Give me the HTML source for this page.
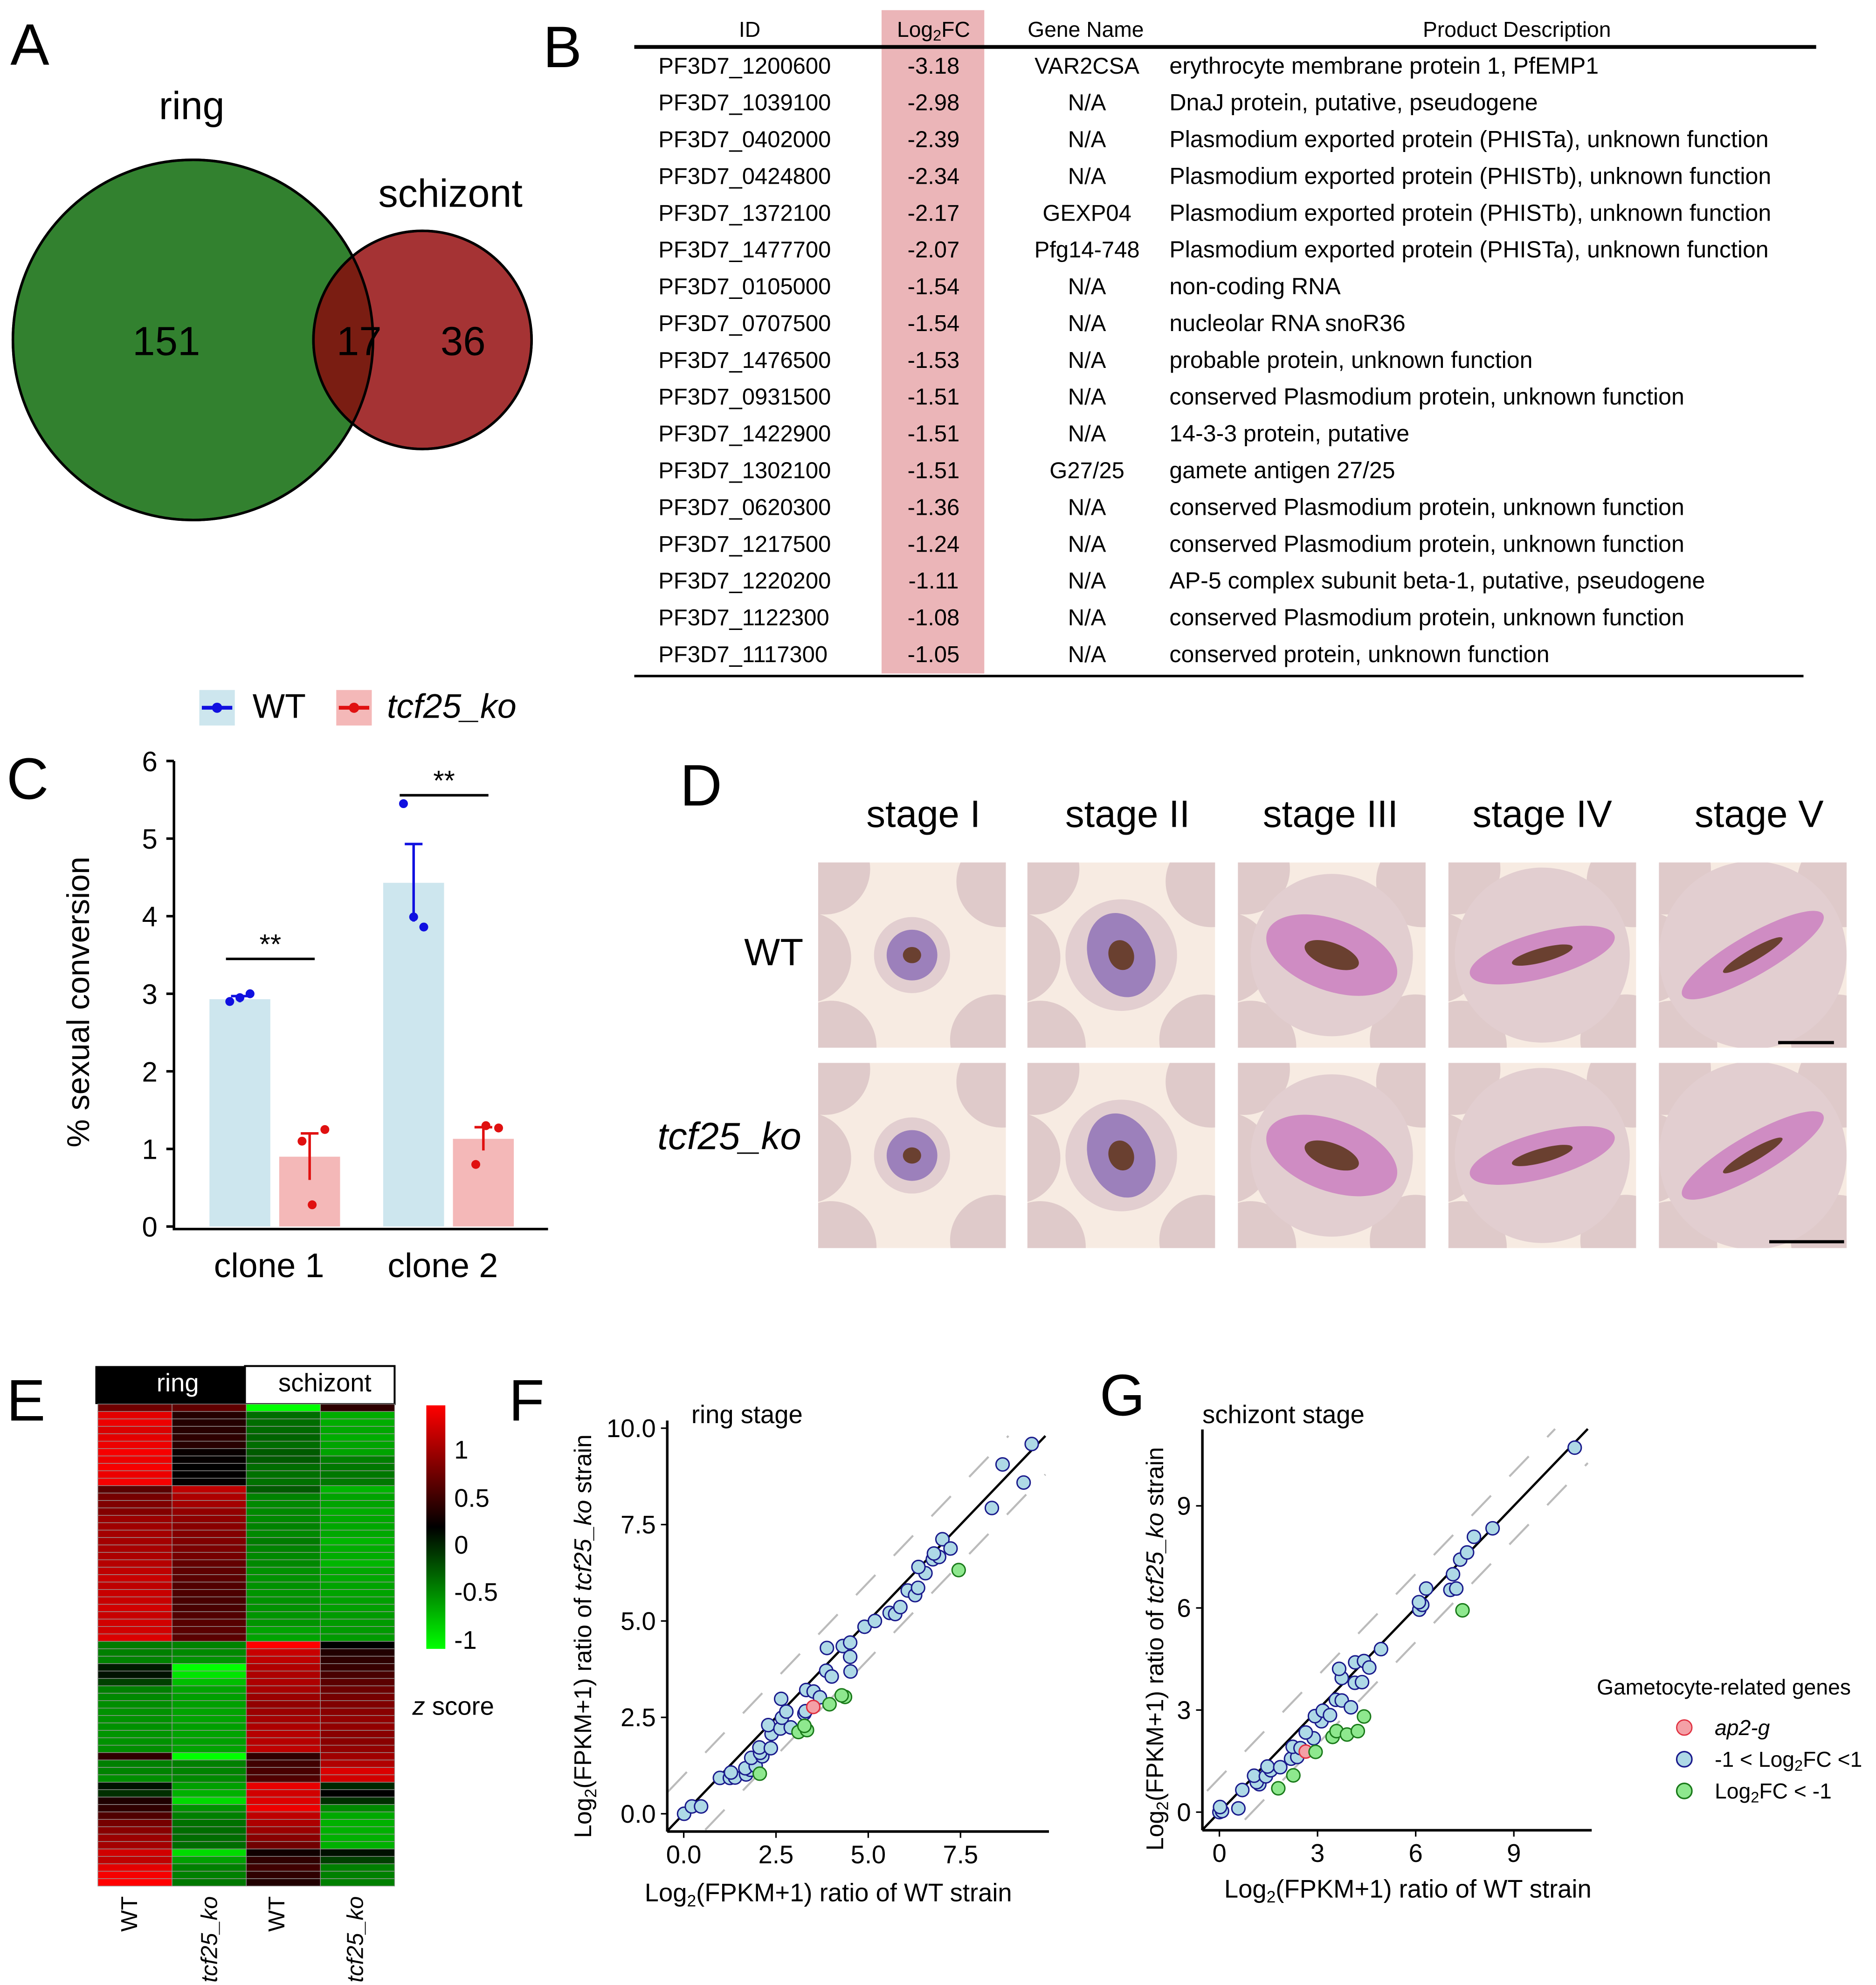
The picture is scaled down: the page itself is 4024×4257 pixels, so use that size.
<!DOCTYPE html>
<html><head><meta charset="utf-8"><style>
html,body{margin:0;padding:0;background:#fff}
svg{display:block;font-family:"Liberation Sans",Arial,sans-serif}
</style></head><body>
<svg id="fig" xmlns="http://www.w3.org/2000/svg" width="4024" height="4257" viewBox="0 0 1479 1565">
<rect x="0" y="0" width="1479" height="1565" fill="#fff"/>
<g font-size="46" fill="#000">
<text x="8" y="51">A</text><text x="428" y="53">B</text><text x="5" y="630">C</text>
<text x="536" y="635">D</text><text x="5" y="1120">E</text><text x="401" y="1120">F</text><text x="867" y="1116">G</text>
</g>
<g>
<circle cx="152" cy="268" r="142" fill="#32812f" stroke="#000" stroke-width="2"/>
<circle cx="333" cy="268" r="86" fill="#a53334" stroke="#000" stroke-width="2"/>
<clipPath id="cpBig"><circle cx="152" cy="268" r="142"/></clipPath>
<circle cx="333" cy="268" r="86" fill="#7a1d12" clip-path="url(#cpBig)"/>
<circle cx="152" cy="268" r="142" fill="none" stroke="#000" stroke-width="2"/>
<circle cx="333" cy="268" r="86" fill="none" stroke="#000" stroke-width="2"/>
<text x="151" y="94" font-size="31" text-anchor="middle">ring</text>
<text x="355" y="163" font-size="31" text-anchor="middle">schizont</text>
<text x="131" y="280" font-size="32" text-anchor="middle">151</text>
<text x="283" y="280" font-size="32" text-anchor="middle">17</text>
<text x="365" y="280" font-size="32" text-anchor="middle">36</text>
</g>
<g id="tableB">
<rect x="695" y="8" width="81" height="523" fill="#ebb5b8"/>
<line x1="500" y1="37" x2="1432" y2="37" stroke="#000" stroke-width="3"/>
<line x1="500" y1="533" x2="1422" y2="533" stroke="#000" stroke-width="2"/>
<g font-size="17" text-anchor="middle">
<text x="591" y="29">ID</text><text x="736" y="29">Log<tspan font-size="12" dy="3">2</tspan><tspan dy="-3">FC</tspan></text>
<text x="856" y="29">Gene Name</text><text x="1196" y="29">Product Description</text></g>
</g>
<g id="panelC">
<g>
<rect x="157" y="544" width="28" height="28" fill="#cde6ee"/><line x1="159" y1="558" x2="183" y2="558" stroke="#1010e0" stroke-width="3"/><circle cx="171" cy="558" r="4" fill="#1010e0"/>
<text x="199" y="566" font-size="27">WT</text>
<rect x="265" y="544" width="28" height="28" fill="#f4b8b8"/><line x1="267" y1="558" x2="291" y2="558" stroke="#e01010" stroke-width="3"/><circle cx="279" cy="558" r="4" fill="#e01010"/>
<text x="305" y="566" font-size="27" font-style="italic">tcf25_ko</text>
</g>
<text transform="translate(70,790) rotate(-90)" font-size="25" text-anchor="middle">% sexual conversion</text>
</g>
<g id="panelD">
<g font-size="30" text-anchor="middle">
<text x="728" y="652">stage I</text><text x="889" y="652">stage II</text><text x="1049" y="652">stage III</text><text x="1216" y="652">stage IV</text><text x="1387" y="652">stage V</text></g>
<text x="610" y="761" font-size="30" text-anchor="middle">WT</text>
<text x="575" y="906" font-size="30" font-style="italic" text-anchor="middle">tcf25_ko</text>
</g>
<g id="panelE">
<rect x="75" y="1077" width="118" height="30" fill="#000"/>
<rect x="193" y="1077" width="118" height="30" fill="#fff" stroke="#000" stroke-width="1.5"/>
<text x="140" y="1097" font-size="20" fill="#fff" text-anchor="middle">ring</text>
<text x="256" y="1097" font-size="20" text-anchor="middle">schizont</text>
<defs><linearGradient id="zg" x1="0" y1="0" x2="0" y2="1"><stop offset="0" stop-color="#ff0000"/><stop offset="0.5" stop-color="#000"/><stop offset="1" stop-color="#00ff00"/></linearGradient></defs>
<rect x="336" y="1108" width="15" height="192" fill="url(#zg)"/>
<g font-size="20">
<text x="358" y="1150">1</text><text x="358" y="1188">0.5</text><text x="358" y="1225">0</text><text x="358" y="1262">-0.5</text><text x="358" y="1300">-1</text></g>
<text x="325" y="1352" font-size="20"><tspan font-style="italic">z</tspan> score</text>
<g font-size="18" text-anchor="end">
<text transform="translate(108,1495) rotate(-90)">WT</text>
<text transform="translate(171,1495) rotate(-90)" font-style="italic">tcf25_ko</text>
<text transform="translate(224,1495) rotate(-90)">WT</text>
<text transform="translate(286,1495) rotate(-90)" font-style="italic">tcf25_ko</text></g>
</g>
<g id="panelF">
<text x="545" y="1122" font-size="20">ring stage</text>
<text transform="translate(466,1290) rotate(-90)" font-size="19" text-anchor="middle">Log<tspan font-size="13" dy="4">2</tspan><tspan dy="-4">(FPKM+1) ratio of </tspan><tspan font-style="italic">tcf25_ko</tspan> strain</text>
<text x="653" y="1499" font-size="20" text-anchor="middle">Log<tspan font-size="13" dy="4">2</tspan><tspan dy="-4">(FPKM+1) ratio of WT strain</tspan></text>
</g>
<g id="panelG">
<text x="948" y="1122" font-size="20">schizont stage</text>
<text transform="translate(917,1300) rotate(-90)" font-size="19" text-anchor="middle">Log<tspan font-size="13" dy="4">2</tspan><tspan dy="-4">(FPKM+1) ratio of </tspan><tspan font-style="italic">tcf25_ko</tspan> strain</text>
<text x="1110" y="1496" font-size="20" text-anchor="middle">Log<tspan font-size="13" dy="4">2</tspan><tspan dy="-4">(FPKM+1) ratio of WT strain</tspan></text>
<g>
<text x="1259" y="1336" font-size="17">Gametocyte-related genes</text>
<circle cx="1328" cy="1362" r="6" fill="#f4a0a6" stroke="#e03040" stroke-width="1"/><text x="1352" y="1368" font-size="17" font-style="italic">ap2-g</text>
<circle cx="1328" cy="1387" r="6" fill="#aed9e6" stroke="#1a1a8c" stroke-width="1.2"/><text x="1352" y="1393" font-size="17">-1 &lt; Log<tspan font-size="12" dy="3">2</tspan><tspan dy="-3">FC &lt;1</tspan></text>
<circle cx="1328" cy="1412" r="6" fill="#8ee88e" stroke="#1a7a1a" stroke-width="1.2"/><text x="1352" y="1418" font-size="17">Log<tspan font-size="12" dy="3">2</tspan><tspan dy="-3">FC &lt; -1</tspan></text>
</g>
</g>
</svg>
<script>
const NS='http://www.w3.org/2000/svg';
function mk(tag,attrs,parent){const e=document.createElementNS(NS,tag);for(const k in attrs)e.setAttribute(k,attrs[k]);if(parent)parent.appendChild(e);return e;}

const geneIds=['PF3D7_1200600','PF3D7_1039100','PF3D7_0402000','PF3D7_0424800','PF3D7_1372100','PF3D7_1477700','PF3D7_0105000','PF3D7_0707500','PF3D7_1476500','PF3D7_0931500','PF3D7_1422900','PF3D7_1302100','PF3D7_0620300','PF3D7_1217500','PF3D7_1220200','PF3D7_1122300','PF3D7_1117300'];
const geneFC=['-3.18','-2.98','-2.39','-2.34','-2.17','-2.07','-1.54','-1.54','-1.53','-1.51','-1.51','-1.51','-1.36','-1.24','-1.11','-1.08','-1.05'];
const geneNames=['VAR2CSA','N/A','N/A','N/A','GEXP04','Pfg14-748','N/A','N/A','N/A','N/A','N/A','G27/25','N/A','N/A','N/A','N/A','N/A'];
const geneDesc=['erythrocyte membrane protein 1, PfEMP1','DnaJ protein, putative, pseudogene','Plasmodium exported protein (PHISTa), unknown function','Plasmodium exported protein (PHISTb), unknown function','Plasmodium exported protein (PHISTb), unknown function','Plasmodium exported protein (PHISTa), unknown function','non-coding RNA','nucleolar RNA snoR36','probable protein, unknown function','conserved Plasmodium protein, unknown function','14-3-3 protein, putative','gamete antigen 27/25','conserved Plasmodium protein, unknown function','conserved Plasmodium protein, unknown function','AP-5 complex subunit beta-1, putative, pseudogene','conserved Plasmodium protein, unknown function','conserved protein, unknown function'];
(function(){const g=document.getElementById('tableB');
for(let i=0;i<geneIds.length;i++){const y=58+29*i;
const row=mk('g',{'font-size':'18'},g);


mk('text',{x:519,y:y},row).textContent=geneIds[i];
mk('text',{x:736,y:y,'text-anchor':'middle'},row).textContent=geneFC[i];
mk('text',{x:857,y:y,'text-anchor':'middle'},row).textContent=geneNames[i];
mk('text',{x:922,y:y,'font-size':'18.4'},row).textContent=geneDesc[i];}})();

const cClones=['clone 1','clone 2'];
const cWTMean=[2.93,4.43];
const cKOMean=[0.90,1.13];
const cWTErr=[0.04,0.50];
const cKOErr=[0.30,0.15];
const cWTPts=[[2.90,2.95,3.00],[5.45,3.99,3.86]];
const cKOPts=[[1.10,1.25,0.28],[0.80,1.27,1.30]];
const cTicks=[0,1,2,3,4,5,6];
(function(){const g=document.getElementById('panelC');
const y=v=>967-v*61.17; const cx=[214,351];
mk('line',{x1:137,y1:600,x2:137,y2:969,stroke:'#000','stroke-width':2},g);
const xa=mk('line',{x1:136,y1:969,x2:432,y2:969,stroke:'#000','stroke-width':2},g);

for(const t of cTicks){mk('line',{x1:131,x2:137,y1:y(t),y2:y(t),stroke:'#000','stroke-width':2},g);
const tx=mk('text',{x:124,y:y(t)+8,'font-size':22,'text-anchor':'end'},g);tx.textContent=t;
}
for(let i=0;i<2;i++){
const b1=mk('rect',{x:cx[i]-49,y:y(cWTMean[i]),width:48,height:y(0)-y(cWTMean[i]),fill:'#cde6ee'},g);


const b2=mk('rect',{x:cx[i]+6,y:y(cKOMean[i]),width:48,height:y(0)-y(cKOMean[i]),fill:'#f4b8b8'},g);


const wx=cx[i]-25,kx=cx[i]+30;
mk('line',{x1:wx,x2:wx,y1:y(cWTMean[i]+cWTErr[i]),y2:y(cWTMean[i]-cWTErr[i]),stroke:'#1010e0','stroke-width':2},g);
mk('line',{x1:wx-7,x2:wx+7,y1:y(cWTMean[i]+cWTErr[i]),y2:y(cWTMean[i]+cWTErr[i]),stroke:'#1010e0','stroke-width':2},g);
mk('line',{x1:kx,x2:kx,y1:y(cKOMean[i]+cKOErr[i]),y2:y(cKOMean[i]-cKOErr[i]),stroke:'#e01010','stroke-width':2},g);
mk('line',{x1:kx-7,x2:kx+7,y1:y(cKOMean[i]+cKOErr[i]),y2:y(cKOMean[i]+cKOErr[i]),stroke:'#e01010','stroke-width':2},g);
const offs=[-8,0,8];
cWTPts[i].forEach((v,j)=>{const p=mk('circle',{cx:wx+offs[j],cy:y(v),r:3.5,fill:'#1010e0'},g);});
cKOPts[i].forEach((v,j)=>{const p=mk('circle',{cx:kx+[-6,12,2][j],cy:y(v),r:3.5,fill:'#e01010'},g);});
const lab=mk('text',{x:cx[i]-2,y:1007,'font-size':27,'text-anchor':'middle'},g);lab.textContent=cClones[i];

const sy=i==0?756:627;
mk('line',{x1:cx[i]-36,x2:cx[i]+34,y1:sy,y2:sy,stroke:'#000','stroke-width':2},g);
const s=mk('text',{x:cx[i]-1,y:sy-4,'font-size':22,'text-anchor':'middle'},g);s.textContent='**';
}})();

(function(){const g=document.getElementById('panelD');
const cols=[645,810,976,1142,1308],rows=[680,838];
const shapes=[[16,16,0],[22,30,-20],[50,24,20],[55,14,-15],[60,12,-30]];
for(let r=0;r<2;r++)for(let c=0;c<5;c++){const x=cols[c],y=rows[r];
const fr=mk('g',{},g);


const cp=mk('clipPath',{id:'cp'+r+c},fr);mk('rect',{x:x,y:y,width:148,height:146},cp);
const gg=mk('g',{'clip-path':'url(#cp'+r+c+')'},fr);
mk('rect',{x:x,y:y,width:148,height:146,fill:'#f7ebe2'},gg);
const rbc=[[5,5],[145,15],[140,140],[10,145],[-10,75]];
rbc.forEach(p=>mk('circle',{cx:x+p[0],cy:y+p[1],r:36,fill:'#d8c2c4',opacity:0.8},gg));
const s=shapes[c];
mk('circle',{cx:x+74,cy:y+73,r:Math.max(s[0],s[1])+14,fill:'#e2ced0'},gg);
mk('ellipse',{cx:x+74,cy:y+73,rx:s[0]+4,ry:s[1]+4,fill:c<2?'#9c80bb':'#cf8cc3',transform:'rotate('+s[2]+' '+(x+74)+' '+(y+73)+')'},gg);
mk('ellipse',{cx:x+74,cy:y+73,rx:s[0]*0.45,ry:s[1]*0.4,fill:'#6a4030',transform:'rotate('+s[2]+' '+(x+74)+' '+(y+73)+')'},gg);}
mk('line',{x1:1402,x2:1446,y1:822,y2:822,stroke:'#000','stroke-width':2.5},g);
mk('line',{x1:1395,x2:1454,y1:979,y2:979,stroke:'#000','stroke-width':2.5},g);})();

const hmColumns=['WT ring','tcf25_ko ring','WT schizont','tcf25_ko schizont'];
const zWTRing=[.61,1.25,1.3,1.2,1.25,1.3,1.35,1.3,1.35,1.3,1.35,.5,.65,.7,.72,.85,.88,.9,.9,.92,.95,1.0,1.05,1.1,1.05,1.1,1.1,1.15,1.1,1.15,1.15,1.2,-.68,-.7,-.72,-.15,-.1,-.35,-.7,-.75,-.78,-.8,-.8,-.8,-.82,-.8,-.78,.26,-.7,-.72,-.78,-.1,-.26,.17,.26,.44,.65,.75,.85,.9,1.15,1.05,1.25,1.35,1.4];
const zKORing=[.53,.2,.2,.22,.25,.22,.05,.03,0,0,.02,1.05,.95,.9,.8,.78,.75,.72,.7,.68,.65,.55,.52,.5,.45,.42,.4,.4,.45,.48,.5,.5,-.72,-.75,-.8,-1.4,-1.25,-1.05,-.9,-.88,-.88,-.9,-.9,-.88,-.9,-.88,-.9,-1.4,-.7,-.72,-.75,-.88,-.97,-1.2,-.8,-.7,-.62,-.6,-.6,-.6,-1.2,-.88,-.7,-.7,-.66];
const zWTSch=[-1.4,-.6,-.6,-.58,-.55,-.6,-.5,-.5,-.6,-.62,-.62,-.5,-.72,-.75,-.75,-.75,-.72,-.75,-.68,-.72,-.75,-.75,-.8,-.8,-.8,-.82,-.8,-.8,-.82,-.82,-.9,-.9,1.4,1.1,1.05,.97,.95,.95,.92,.85,.8,.85,.9,.95,1.0,1.0,1.05,.26,.35,.4,.44,1.28,1.15,1.22,1.3,1.05,.95,.85,.75,.62,.09,.26,.35,.26,.18];
const zKOSch=[.25,-.95,-.95,-.92,-.95,-.9,-.9,-.7,-.66,-.66,-.66,-1.0,-.9,-.9,-.95,-.92,-.92,-.92,-1.0,-.95,-.95,-1.0,-.92,-.92,-.9,-.9,-.88,-.88,-.85,-.85,-.85,-.85,0,.18,.25,.3,.4,.5,.6,.65,.7,.75,.8,.8,.75,.75,.8,.88,.97,1.2,1.15,-.22,0,-.26,-.75,-.93,-.97,-.97,-.97,-.97,-.09,-.35,-.7,-.7,-.7];
(function(){const g=document.getElementById('panelE');
const cols=[zWTRing,zKORing,zWTSch,zKOSch];
const x0=77,x1=311,y0=1107,y1=1487,n=zWTRing.length;
const cw=(x1-x0)/4,rh=(y1-y0)/n;
const col=z=>{const t=Math.min(Math.abs(z)/1.4,1);const v=Math.round(255*t);return z>=0?`rgb(${v},0,0)`:`rgb(0,${v},0)`;};
cols.forEach((arr,c)=>arr.forEach((z,i)=>{
const r=mk('rect',{x:x0+c*cw,y:y0+i*rh,width:cw,height:rh,fill:col(z),stroke:'#9a9a9a','stroke-width':0.5},g);

}));})();

const fBlueX=[0.01,0.22,0.47,0.98,1.25,1.39,1.28,1.69,1.81,1.67,1.95,1.83,2.13,2.07,2.05,2.36,2.38,2.29,2.62,2.66,2.78,2.90,2.64,3.27,3.30,3.32,3.52,3.69,3.86,4.01,3.88,4.31,4.51,4.51,4.52,4.90,5.18,5.58,5.73,5.87,6.07,6.27,6.35,6.55,6.36,6.75,6.92,6.78,7.01,7.23,8.35,8.64,9.21,9.43];
const fBlueY=[0.00,0.19,0.19,0.93,0.93,0.94,1.07,1.02,1.14,1.18,1.24,1.45,1.49,1.58,1.72,1.70,2.07,2.30,2.21,2.49,2.65,2.24,2.98,2.60,2.66,3.21,3.17,3.02,3.71,3.56,4.30,4.35,4.44,4.07,3.69,4.85,5.00,5.21,5.18,5.36,5.79,5.67,5.86,6.24,6.40,6.60,6.66,6.75,7.12,6.88,7.93,9.06,8.59,9.59];
const fRedX=[3.51], fRedY=[2.77];
const fGreenX=[2.06,3.11,3.34,3.27,3.95,4.37,4.28,7.45];
const fGreenY=[1.04,2.12,2.17,2.28,2.84,3.03,3.07,6.32];
const fTicks=[0,2.5,5,7.5,10];
const fTickLabels=['0.0','2.5','5.0','7.5','10.0'];
const gBlueX=[0,0.08,0.02,0.58,0.70,1.22,1.14,1.06,1.42,1.57,1.47,1.86,2.19,2.38,2.24,2.48,2.88,2.64,3.12,2.92,3.16,3.38,3.56,3.74,4.02,3.74,3.66,4.14,4.36,4.15,4.42,4.58,4.94,6.11,6.20,6.10,6.32,7.06,7.24,7.14,7.36,7.57,7.78,8.35,10.86];
const gBlueY=[0,0.03,0.15,0.11,0.65,0.82,0.88,1.07,1.05,1.23,1.34,1.32,1.57,1.62,1.92,1.88,2.17,2.34,2.67,2.82,2.98,2.85,3.30,3.28,3.08,3.94,4.21,3.80,3.82,4.40,4.44,4.25,4.79,5.95,6.09,6.17,6.57,6.53,6.57,6.99,7.42,7.63,8.09,8.34,10.71];
const gRedX=[2.64], gRedY=[1.78];
const gGreenX=[1.80,2.26,2.94,3.46,3.58,3.90,4.23,4.42,7.43];
const gGreenY=[0.70,1.08,1.77,2.21,2.38,2.28,2.38,2.81,5.93];
const gTicks=[0,3,6,9];
const gTickLabels=['0','3','6','9'];

function scatter(gid,o){const g=document.getElementById(gid);
const X=v=>o.x0+v*o.kx, Y=v=>o.y0-v*o.ky;
const cp=mk('clipPath',{id:'clip'+gid},g);mk('rect',{x:o.ax,y:o.top-20,width:o.right-o.ax,height:o.ay-o.top+20},cp);
const lo=-(o.ay-o.y0)/o.ky, hi=o.max;
const lg=mk('g',{'clip-path':'url(#clip'+gid+')'},g);
[1,-1].forEach(d=>{const l=mk('line',{x1:X(lo-1),y1:Y(lo-1+d),x2:X(hi-(d>0?1:0)),y2:Y(hi-(d>0?1:0)+d),stroke:'#bbb','stroke-width':1.6,'stroke-dasharray':'22 21'},lg);
});
const dl=mk('line',{x1:X(lo),y1:Y(lo),x2:X(hi),y2:Y(hi),stroke:'#000','stroke-width':1.8},g);

const ya=mk('line',{x1:o.ax,y1:o.top,x2:o.ax,y2:o.ay,stroke:'#000','stroke-width':2},g);

const xa=mk('line',{x1:o.ax,y1:o.ay,x2:o.right,y2:o.ay,stroke:'#000','stroke-width':2},g);

o.ticks.forEach((t,i)=>{
mk('line',{x1:o.ax-5,x2:o.ax,y1:Y(t),y2:Y(t),stroke:'#000','stroke-width':1.2},g);
if(X(t)<o.right){mk('line',{x1:X(t),x2:X(t),y1:o.ay,y2:o.ay+5,stroke:'#000','stroke-width':1.2},g);
const tx=mk('text',{x:X(t),y:o.ay+25,'font-size':20,'text-anchor':'middle'},g);tx.textContent=o.labels[i];
}
if(Y(t)>o.top-8){const ty=mk('text',{x:o.ax-9,y:Y(t)+7,'font-size':20,'text-anchor':'end'},g);ty.textContent=o.labels[i];
}});
const pt=(xs,ys,fill,stroke,name)=>xs.forEach((v,i)=>{const c=mk('circle',{cx:X(v),cy:Y(ys[i]),r:5.2,fill:fill,stroke:stroke,'stroke-width':1.1},g);

});
pt(o.bx,o.by,'#aed9e6','#1a1a8c','gene-point');
pt(o.rx,o.ry,'#f4a0a6','#e03040','ap2g-point');
pt(o.gx,o.gy,'#8ee88e','#1a7a1a','downregulated-point');}
scatter('panelF',{x0:539,kx:29.1,y0:1430,ky:30.4,ax:526,ay:1444,top:1120,right:827,max:9.8,ticks:fTicks,labels:fTickLabels,bx:fBlueX,by:fBlueY,rx:fRedX,ry:fRedY,gx:fGreenX,gy:fGreenY});
scatter('panelG',{x0:961.4,kx:25.8,y0:1428.7,ky:26.83,ax:948,ay:1443,top:1127,right:1255,max:11.26,ticks:gTicks,labels:gTickLabels,bx:gBlueX,by:gBlueY,rx:gRedX,ry:gRedY,gx:gGreenX,gy:gGreenY});
</script>
</body></html>
